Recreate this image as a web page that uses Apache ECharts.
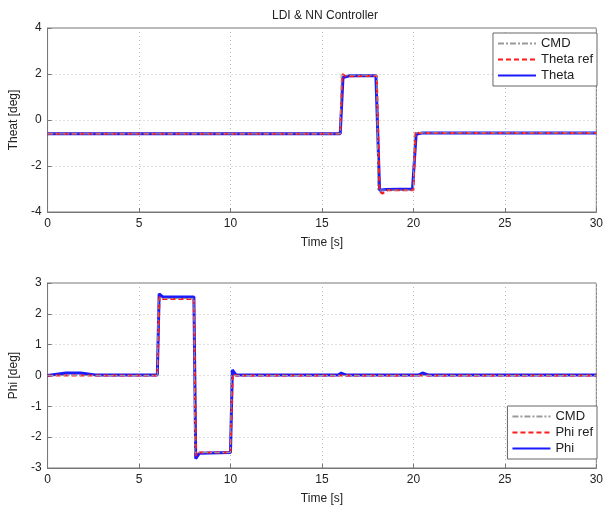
<!DOCTYPE html>
<html>
<head>
<meta charset="utf-8">
<script src="https://cdn.jsdelivr.net/npm/echarts@6/dist/echarts.min.js"></script>
<style>
  html, body { margin: 0; padding: 0; background: #fff; }
  #main { width: 606px; height: 506px; }
</style>
</head>
<body>
<div id="main"></div>
<script>
// x axis ticks (time, s)
let timeTicks = [0, 5, 10, 15, 20, 25, 30];

// top plot: Theta
let thetaCmdT = [0, 16.0, 16.05, 18.0, 18.05, 20.0, 20.05, 30];
let thetaCmdV = [-0.6, -0.6, 1.95, 1.95, -3.05, -3.05, -0.56, -0.56];

let thetaRefT = [0, 16.0, 16.12, 16.3, 18.0, 18.15, 18.3, 18.6, 20.0, 20.12, 20.3, 30];
let thetaRefV = [-0.6, -0.6, 2.0, 1.9, 1.92, -3.1, -3.2, -3.05, -3.05, -0.5, -0.56, -0.56];

let thetaT = [0, 7.9, 8.0, 8.1, 16.0, 16.15, 16.5, 17.95, 18.15, 18.5, 19.95, 20.15, 20.5, 30];
let thetaV = [-0.6, -0.6, -0.55, -0.6, -0.6, 1.85, 1.92, 1.92, -3.05, -3.02, -3.0, -0.62, -0.56, -0.56];

// bottom plot: Phi
let phiCmdT = [0, 6.0, 6.05, 8.0, 8.05, 10.0, 10.05, 30];
let phiCmdV = [0, 0, 2.5, 2.5, -2.5, -2.5, 0, 0];

let phiRefT = [0, 6.0, 6.12, 6.3, 8.0, 8.12, 8.3, 10.0, 10.12, 10.3, 30];
let phiRefV = [0, 0, 2.55, 2.48, 2.48, -2.6, -2.5, -2.5, 0.05, 0, 0];

let phiT = [0, 1.0, 1.8, 2.6, 6.0, 6.1, 6.3, 8.0, 8.1, 8.3, 10.0, 10.1, 10.3, 15.9, 16.05, 16.3, 20.3, 20.5, 20.8, 30];
let phiV = [0, 0.08, 0.08, 0.02, 0.02, 2.65, 2.55, 2.55, -2.7, -2.52, -2.5, 0.18, 0.02, 0.02, 0.08, 0.02, 0.02, 0.08, 0.02, 0.02];

function pairs(t, v) {
    return t.map(function (x, i) { return [x, v[i]]; });
}

let axisFont = { color: '#222', fontSize: 12, fontFamily: 'Liberation Sans' };
let gridLine = { show: true, lineStyle: { color: '#bbb', type: [1, 3], width: 1 } };
let axisLineStyle = { show: true, onZero: false, lineStyle: { color: '#777' } };

function xAxis(gridIndex) {
    return {
        type: 'value', gridIndex: gridIndex, min: 0, max: 30, interval: 5,
        name: 'Time [s]', nameLocation: 'middle', nameGap: 25,
        nameTextStyle: axisFont,
        axisLabel: Object.assign({ margin: 6 }, axisFont),
        axisLine: axisLineStyle,
        axisTick: { inside: true, length: 4, lineStyle: { color: '#777' } },
        splitLine: gridLine
    };
}

function yAxis(gridIndex, min, max, interval, name) {
    return {
        type: 'value', gridIndex: gridIndex, min: min, max: max, interval: interval,
        name: name, nameLocation: 'middle', nameGap: 24,
        nameTextStyle: axisFont,
        axisLabel: Object.assign({ margin: 6 }, axisFont),
        axisLine: axisLineStyle,
        axisTick: { inside: true, length: 4, lineStyle: { color: '#777' } },
        splitLine: gridLine
    };
}

function line(name, idx, data, color, width, type, z) {
    return {
        name: name, type: 'line', xAxisIndex: idx, yAxisIndex: idx,
        data: data, showSymbol: false, symbol: 'none', animation: false, z: z,
        lineStyle: { color: color, width: width, type: type },
        itemStyle: { color: color }
    };
}

let legendBase = {
    orient: 'vertical', right: 9, backgroundColor: '#fff',
    borderColor: '#666', borderWidth: 1, borderRadius: 0,
    padding: [4, 4, 4, 4], itemWidth: 38, itemHeight: 8, itemGap: 3,
    itemStyle: { opacity: 0 },
    textStyle: { color: '#222', fontSize: 13, fontFamily: 'Liberation Sans' }
};

let option = {
    backgroundColor: '#fff',
    animation: false,
    title: {
        text: 'LDI & NN Controller', left: 320, top: 5, textAlign: 'center',
        textStyle: { color: '#222', fontSize: 12, fontWeight: 'normal', fontFamily: 'Liberation Sans' }
    },
    legend: [
        Object.assign({}, legendBase, { top: 33, data: ['CMD', 'Theta ref', 'Theta'] }),
        Object.assign({}, legendBase, { top: 406, data: ['CMD', 'Phi ref', 'Phi'] })
    ],
    grid: [
        { left: 40, right: 9, top: 28, height: 184, show: true, borderColor: '#777', borderWidth: 1 },
        { left: 40, right: 9, top: 283, height: 186, show: true, borderColor: '#777', borderWidth: 1 }
    ],
    xAxis: [xAxis(0), xAxis(1)],
    yAxis: [yAxis(0, -4, 4, 2, 'Theat [deg]'), yAxis(1, -3, 3, 1, 'Phi [deg]')],
    series: [
        line('Theta', 0, pairs(thetaT, thetaV), '#1a1aff', 3, 'solid', 2),
        line('Theta ref', 0, pairs(thetaRefT, thetaRefV), '#ff1a1a', 2, [5, 3], 3),
        line('CMD', 0, pairs(thetaCmdT, thetaCmdV), '#999', 1, [6, 2, 2, 2], 4),
        line('Phi', 1, pairs(phiT, phiV), '#1a1aff', 3, 'solid', 2),
        line('Phi ref', 1, pairs(phiRefT, phiRefV), '#ff1a1a', 2, [5, 3], 3),
        line('CMD', 1, pairs(phiCmdT, phiCmdV), '#999', 1, [6, 2, 2, 2], 4)
    ]
};

let chart = echarts.init(document.getElementById('main'));
chart.setOption(option);
</script>
</body>
</html>
